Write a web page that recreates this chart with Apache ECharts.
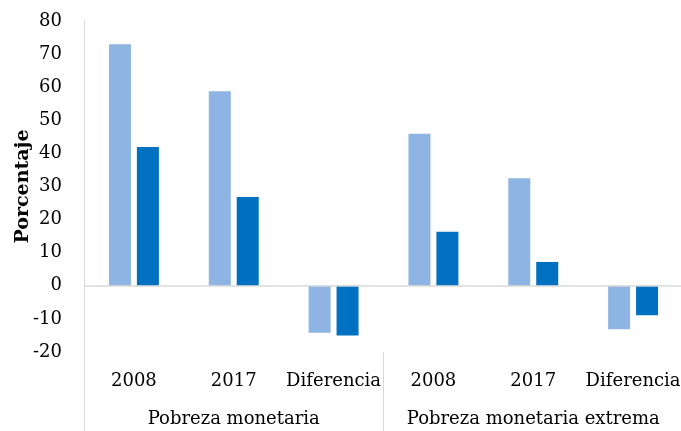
<!DOCTYPE html>
<html><head><meta charset="utf-8">
<script src="https://cdn.jsdelivr.net/npm/echarts@6/dist/echarts.min.js"></script>
<style>html,body{margin:0;padding:0;background:#fff}#c{width:681px;height:431px}</style>
</head><body><div id="c"></div>
<script>
const categories = ['2008', '2017', 'Diferencia', '2008', '2017', 'Diferencia'];
const groups = ['Pobreza monetaria', 'Pobreza monetaria extrema'];
const serieA = [73.0, 58.8, -14.2, 45.9, 32.5, -13.1];
const serieB = [41.9, 26.8, -15.0, 16.3, 7.2, -8.9];
const yTicks = {min: -20, max: 80, interval: 10};

const font = 'DejaVu Serif';
const chart = echarts.init(document.getElementById('c'), null, {renderer: 'canvas'});
chart.setOption({
  animation: false,
  backgroundColor: '#fff',
  grid: {left: 84, right: -2, top: 21, bottom: 79, outerBoundsMode: 'none', containLabel: false},
  xAxis: [{
    type: 'category', data: categories, gridIndex: 0, position: 'bottom',
    axisLine: {show: false}, axisTick: {show: false},
    axisLabel: {color: '#000', fontFamily: font, fontSize: 18, margin: 20, interval: 0}
  }, {
    type: 'category', data: groups, gridIndex: 0, position: 'bottom', offset: 0,
    axisLine: {show: false},
    axisTick: {show: true, length: 79, lineStyle: {color: '#D9D9D9', width: 1}},
    axisLabel: {color: '#000', fontFamily: font, fontSize: 18, margin: 58, interval: 0}
  }],
  yAxis: {
    type: 'value', min: yTicks.min, max: yTicks.max, interval: yTicks.interval,
    axisLine: {show: true, lineStyle: {color: '#D9D9D9', width: 1}},
    axisTick: {show: false}, splitLine: {show: false},
    axisLabel: {color: '#000', fontFamily: font, fontSize: 18, margin: 22},
    name: 'Porcentaje', nameLocation: 'middle', nameRotate: 90, nameGap: 51,
    nameMoveOverlap: false,
    nameTextStyle: {color: '#000', fontFamily: font, fontSize: 19, fontWeight: 'bold'}
  },
  series: [{
    type: 'bar', data: serieA, barWidth: 22, barGap: '27%',
    itemStyle: {color: '#8EB4E3'},
    markLine: {silent: true, symbol: 'none', label: {show: false},
      lineStyle: {color: '#D9D9D9', width: 1.5, type: 'solid'}, data: [{yAxis: 0}]}
  }, {
    type: 'bar', data: serieB, barWidth: 22, barGap: '27%',
    itemStyle: {color: '#0070C0'}
  }]
});
</script></body></html>
